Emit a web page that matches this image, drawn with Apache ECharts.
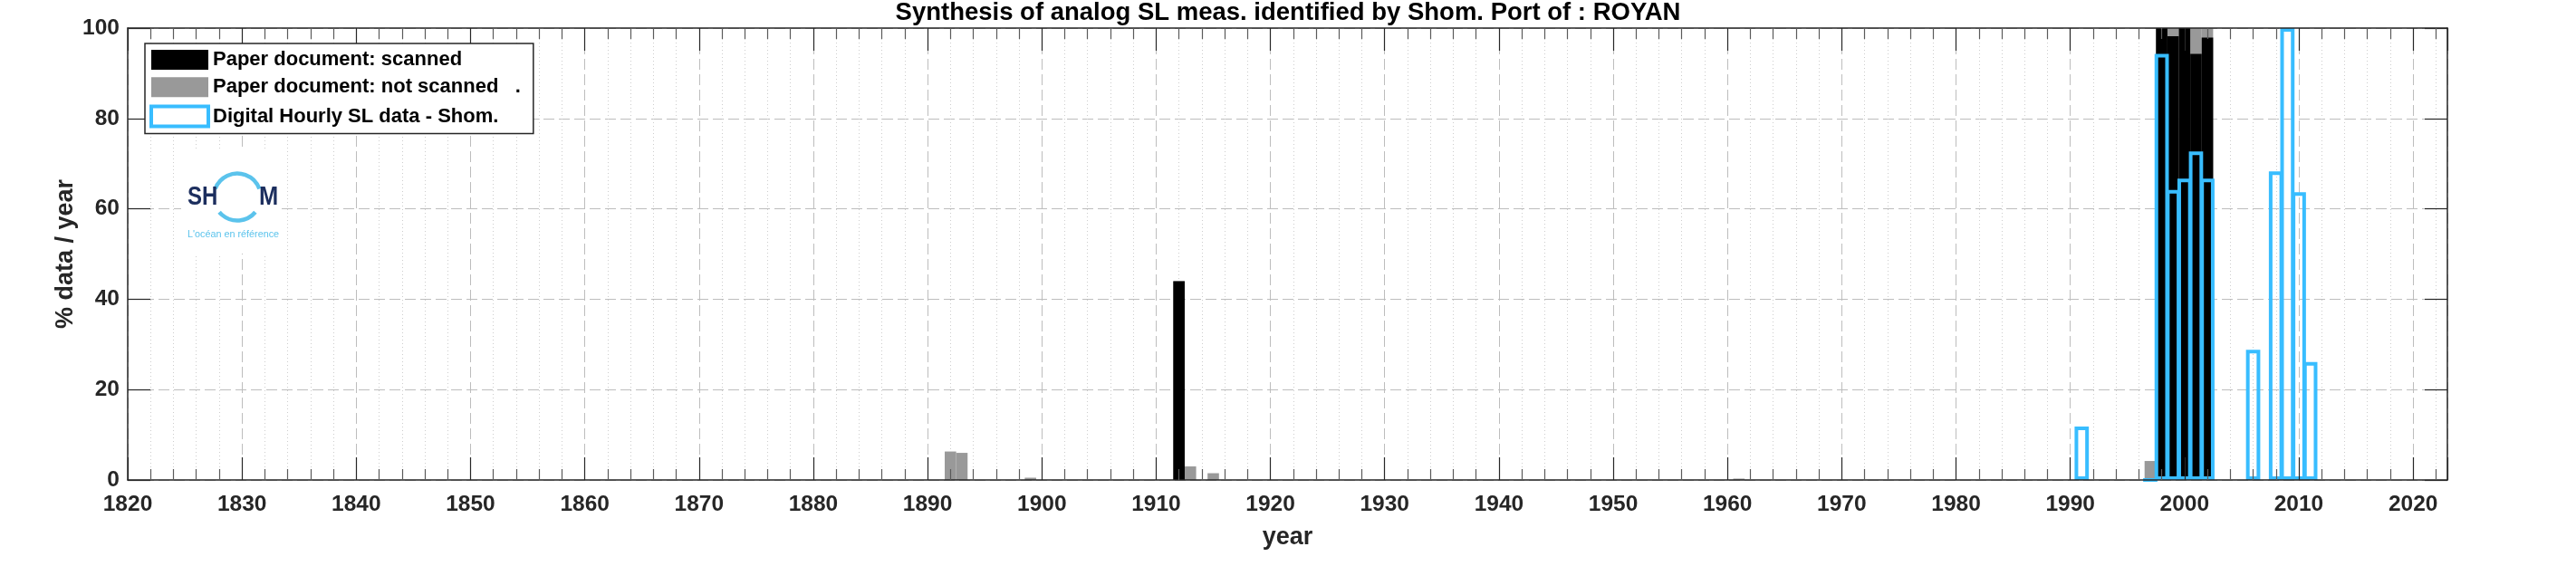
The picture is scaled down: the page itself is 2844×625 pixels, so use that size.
<!DOCTYPE html>
<html>
<head>
<meta charset="utf-8">
<title>Synthesis of analog SL meas. - ROYAN</title>
<script src="https://cdn.jsdelivr.net/npm/echarts@6.0.0/dist/echarts.min.js"></script>
<style>
  html, body { margin: 0; padding: 0; background: #ffffff; }
  #chart { width: 2844px; height: 625px; }
</style>
</head>
<body>
<div id="chart"></div>
<script>
// ---------------- data ----------------
const titleText = 'Synthesis of analog SL meas. identified by Shom. Port of : ROYAN';
const legendNames = [
  'Paper document: scanned',
  'Paper document: not scanned   .',
  'Digital Hourly SL data - Shom.'
];
const xAxisName = 'year';
const yAxisName = '% data / year';
const xTickLabels = ['1820', '1830', '1840', '1850', '1860', '1870', '1880', '1890', '1900', '1910',
                     '1920', '1930', '1940', '1950', '1960', '1970', '1980', '1990', '2000', '2010', '2020'];
const yTickLabels = ['0', '20', '40', '60', '80', '100'];

// paper documents (percent of the year)
const paperYears = [1892, 1893, 1899, 1912, 1913, 1915, 1961, 1997, 1998, 1999, 2000, 2001, 2002];
const scanned    = [0,    0,    0,    44.0, 0,    0,    0,    0,    100,  98.2, 100,  94.3, 97.9];
const notScanned = [6.3,  6.0,  0.5,  0,    3.0,  1.5,  0.3,  4.2,  0,    1.8,  0,    5.7,  2.1];

// digital hourly data (percent of the year)
const digitalYears = [1991, 1997, 1998, 1999, 2000, 2001, 2002, 2006, 2008, 2009, 2010, 2011];
const digital      = [11.8, 0,    94.3, 64.2, 66.7, 72.7, 66.7, 28.8, 68.3, 100,  63.7, 26.1];

// ---------------- styling ----------------
const FONT = '"Liberation Sans", Arial, Helvetica, sans-serif';
const AX = '#262626';
const BLUE = '#38BDFF';
const GRAY = '#999999';
const NAVY = '#1c2e5e';
const LOGO_BLUE = '#5bc3ec';
const X_MIN = 1820, X_MAX = 2023;
const GRID = { left: 141, top: 31, width: 2561, height: 499 };
const pxPerYear = GRID.width / (X_MAX - X_MIN);
const BORDER = 4;
const paperBarWidth = pxPerYear;
const digitalBarWidth = pxPerYear * 0.93 + BORDER;

const paperTotal = scanned.map((v, i) => v + notScanned[i]);

const xFormatter = v => (xTickLabels.includes(String(v)) ? String(v) : '');
const yFormatter = v => (yTickLabels.includes(String(v)) ? String(v) : '');

const tickStyle = { color: AX, width: 1.2 };
const minorTickStyle = { color: '#5a5a5a', width: 1.2 };
const labelStyle = { show: true, fontSize: 24.5, fontWeight: 'bold', color: AX, fontFamily: FONT };
const nameStyle = { fontSize: 27, fontWeight: 'bold', color: AX, fontFamily: FONT };

const chart = echarts.init(document.getElementById('chart'), null, { renderer: 'canvas', width: 2844, height: 625 });

const option = {
  animation: false,
  backgroundColor: '#ffffff',
  title: {
    text: titleText,
    left: 'center',
    top: 0,
    padding: 0,
    textStyle: { fontSize: 27.5, fontWeight: 'bold', color: '#000000', fontFamily: FONT }
  },
  grid: Object.assign({ containLabel: false, outerBoundsMode: 'none' }, GRID),
  legend: {
    orient: 'vertical',
    left: 160,
    top: 48,
    padding: [7, 14, 6, 5],
    itemWidth: 63,
    itemHeight: 22,
    itemGap: 8.3,
    icon: 'rect',
    selectedMode: false,
    backgroundColor: '#ffffff',
    borderColor: AX,
    borderWidth: 1.5,
    z: 6,
    textStyle: { fontSize: 22, fontWeight: 'bold', color: '#000000', fontFamily: FONT },
    data: [
      { name: legendNames[0], itemStyle: { color: '#000000', borderWidth: 0 } },
      { name: legendNames[1], itemStyle: { color: GRAY, borderWidth: 0 } },
      { name: legendNames[2], itemStyle: { color: '#ffffff', borderColor: BLUE, borderWidth: 4 } }
    ]
  },
  xAxis: [
    { // grid lines (under the bars)
      type: 'value', position: 'bottom', min: X_MIN, max: X_MAX, interval: 10, z: 0,
      axisLine: { show: false, onZero: false },
      axisTick: { show: false },
      axisLabel: { show: false },
      minorTick: { show: false, splitNumber: 5 },
      splitLine: { show: true, lineStyle: { color: '#bdbdbd', width: 1, type: [12, 5] } },
      minorSplitLine: { show: true, lineStyle: { color: '#cdcdcd', width: 1, type: [1, 3] } }
    },
    { // top box edge with ticks
      type: 'value', position: 'top', min: X_MIN, max: X_MAX, interval: 10, z: 5,
      axisLine: { show: true, onZero: false, lineStyle: { color: AX, width: 1.5 } },
      axisTick: { show: true, inside: true, length: 25, lineStyle: tickStyle },
      minorTick: { show: true, splitNumber: 5, length: 12, lineStyle: minorTickStyle },
      axisLabel: { show: false },
      splitLine: { show: false }
    },
    { // bottom axis with labels
      type: 'value', position: 'bottom', min: X_MIN, max: X_MAX, interval: 10, z: 5,
      axisLine: { show: true, onZero: false, lineStyle: { color: AX, width: 1.5 } },
      axisTick: { show: true, inside: true, length: 25, lineStyle: tickStyle },
      minorTick: { show: true, splitNumber: 5, length: 12, lineStyle: minorTickStyle },
      axisLabel: Object.assign({ margin: 15, formatter: xFormatter }, labelStyle),
      splitLine: { show: false },
      name: xAxisName, nameLocation: 'middle', nameGap: 50, nameTextStyle: nameStyle,
      nameMoveOverlap: false
    }
  ],
  yAxis: [
    { // grid lines
      type: 'value', position: 'left', min: 0, max: 100, interval: 20, z: 0,
      axisLine: { show: false, onZero: false },
      axisTick: { show: false },
      axisLabel: { show: false },
      splitLine: { show: true, lineStyle: { color: '#bdbdbd', width: 1, type: [12, 5] } }
    },
    { // right box edge
      type: 'value', position: 'right', min: 0, max: 100, interval: 20, z: 5,
      axisLine: { show: true, onZero: false, lineStyle: { color: AX, width: 1.5 } },
      axisTick: { show: true, inside: true, length: 25, lineStyle: tickStyle },
      axisLabel: { show: false },
      splitLine: { show: false }
    },
    { // left axis with labels
      type: 'value', position: 'left', min: 0, max: 100, interval: 20, z: 5,
      axisLine: { show: true, onZero: false, lineStyle: { color: AX, width: 1.5 } },
      axisTick: { show: true, inside: true, length: 25, lineStyle: tickStyle },
      axisLabel: Object.assign({ margin: 9, formatter: yFormatter }, labelStyle),
      splitLine: { show: false },
      name: yAxisName, nameLocation: 'middle', nameGap: 55, nameTextStyle: nameStyle,
      nameMoveOverlap: false
    }
  ],
  series: [
    {
      name: legendNames[1], type: 'bar', xAxisIndex: 0, yAxisIndex: 0,
      barWidth: paperBarWidth, barGap: '-100%', z: 2,
      itemStyle: { color: GRAY },
      data: paperYears.map((y, i) => [y, paperTotal[i]])
    },
    {
      name: legendNames[0], type: 'bar', xAxisIndex: 0, yAxisIndex: 0,
      barWidth: paperBarWidth, barGap: '-100%', z: 2,
      itemStyle: { color: '#000000' },
      data: paperYears.map((y, i) => [y, scanned[i]])
    },
    {
      name: legendNames[2], type: 'bar', xAxisIndex: 1, yAxisIndex: 0,
      barWidth: digitalBarWidth, z: 3,
      itemStyle: { color: 'rgba(255,255,255,0)', borderColor: BLUE, borderWidth: BORDER },
      data: digitalYears.map((y, i) => [y, digital[i]])
    }
  ],
  graphic: {
    elements: [
      { type: 'rect', silent: true, z: 1, shape: { x: 200, y: 165, width: 110, height: 115 }, style: { fill: '#ffffff' } },
      { type: 'arc', silent: true, z: 1,
        shape: { cx: 262, cy: 217.5, r: 26, startAngle: Math.PI + 0.35, endAngle: 2 * Math.PI - 0.35, clockwise: true },
        style: { stroke: LOGO_BLUE, lineWidth: 4.5, fill: 'none' } },
      { type: 'arc', silent: true, z: 1,
        shape: { cx: 262, cy: 217.5, r: 26, startAngle: 0.7, endAngle: Math.PI - 0.7, clockwise: true },
        style: { stroke: LOGO_BLUE, lineWidth: 4.5, fill: 'none' } },
      { type: 'text', silent: true, z: 1, x: 207, y: 218, scaleX: 0.8,
        style: { text: 'SH', fontSize: 30, fontWeight: 'bold', fontFamily: FONT, fill: NAVY, align: 'left', verticalAlign: 'middle' } },
      { type: 'text', silent: true, z: 1, x: 286, y: 218, scaleX: 0.85,
        style: { text: 'M', fontSize: 30, fontWeight: 'bold', fontFamily: FONT, fill: NAVY, align: 'left', verticalAlign: 'middle' } },
      { type: 'text', silent: true, z: 1, x: 207, y: 259,
        style: { text: "L'océan en référence", fontSize: 10.8, fontFamily: FONT, fill: LOGO_BLUE, align: 'left', verticalAlign: 'middle' } }
    ]
  }
};

chart.setOption(option);
</script>
</body>
</html>
